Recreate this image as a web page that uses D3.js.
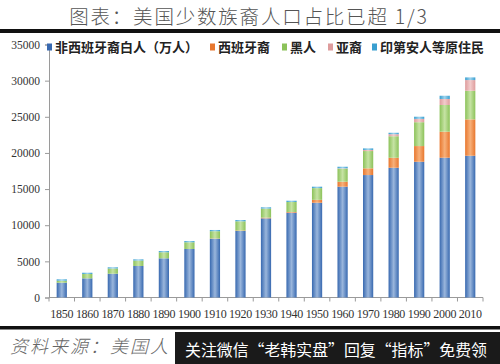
<!DOCTYPE html>
<html><head><meta charset="utf-8">
<script src="https://cdn.jsdelivr.net/npm/d3@7"></script>
<style>body{margin:0;background:#fff}svg{display:block}</style>
</head><body>
<svg id="c" width="500" height="364"></svg>
<script>
const years = ["1850","1860","1870","1880","1890","1900","1910","1920","1930","1940","1950","1960","1970","1980","1990","2000","2010"];
const whiteNH = [2050,2650,3290,4360,5420,6710,8130,9200,10950,11730,13110,15330,16940,17950,18780,19340,19610];
const hispanic = [0,0,0,0,0,0,40,70,100,100,400,690,930,1380,2170,3600,5030];
const black = [270,600,720,750,840,930,1000,1270,1250,1380,1620,1800,2390,2980,3300,3690,3960];
const asian = [0,0,0,0,0,0,0,0,0,0,0,50,150,280,460,830,1480];
const native = [200,180,170,170,170,170,170,180,180,180,200,220,220,200,300,450,370];
const seriesNames = ["非西班牙裔白人（万人）","西班牙裔","黑人","亚裔","印第安人等原住民"];
const yTicks = [0,5000,10000,15000,20000,25000,30000,35000];

const svg = d3.select("#c");
const W=500,H=364;
const x0=49,x1=483,y0=297.5,y1=44.5;

// title
svg.append("text").attr("x",249).attr("y",24).attr("text-anchor","middle")
  .attr("font-family","'Noto Sans CJK SC'").attr("font-size",19.5).attr("font-weight",300)
  .attr("fill","#555").attr("letter-spacing",1.8).text("图表：美国少数族裔人口占比已超 1/3");
svg.append("rect").attr("x",0).attr("y",29).attr("width",W).attr("height",4).attr("fill","#111");

const keys=["w","h","b","a","n"];
const rows = years.map((y,i)=>({year:y,w:whiteNH[i],h:hispanic[i],b:black[i],a:asian[i],n:native[i]}));
const stack = d3.stack().keys(keys)(rows);

const x = d3.scaleBand().domain(years).range([x0,x1]).paddingInner(0.6).paddingOuter(0.3);
const y = d3.scaleLinear().domain([0,35000]).range([y0,y1]);

const colors = {
  w:["#3869b0","#9ab6dc"],
  h:["#e8772e","#f7b07a"],
  b:["#8cc25a","#c6e3a4"],
  a:["#de9c9c","#f2cccc"],
  n:["#3a9fd0","#9fd4ee"]
};
const defs = svg.append("defs");
keys.forEach(k=>{
  const g = defs.append("linearGradient").attr("id","g"+k).attr("x1","0").attr("x2","1").attr("y1","0").attr("y2","0");
  g.append("stop").attr("offset","0").attr("stop-color",colors[k][0]);
  g.append("stop").attr("offset","0.5").attr("stop-color",colors[k][1]);
  g.append("stop").attr("offset","1").attr("stop-color",colors[k][0]);
});

// axes
const yAxis = d3.axisLeft(y).tickValues(yTicks).tickSize(4).tickPadding(5).tickFormat(d3.format("d"));
const gy = svg.append("g").attr("transform",`translate(${x0},0)`).call(yAxis);
gy.select(".domain").attr("stroke","#9a9a9a");
gy.selectAll(".tick line").attr("stroke","#9a9a9a");
gy.selectAll("text").attr("font-family","'Liberation Serif'").attr("font-size",11.5).attr("fill","#333");

const gx = svg.append("g").attr("transform",`translate(0,${y0})`);
gx.append("line").attr("x1",x0).attr("x2",x1).attr("stroke","#9a9a9a");
const bounds = d3.range(years.length+1).map(i=>x0+i*(x1-x0)/years.length);
gx.selectAll("line.t").data(bounds).join("line").attr("class","t")
  .attr("x1",d=>d).attr("x2",d=>d).attr("y1",0).attr("y2",4).attr("stroke","#9a9a9a");
gx.selectAll("text").data(years).join("text")
  .attr("x",(d,i)=>(bounds[i]+bounds[i+1])/2).attr("y",20).attr("text-anchor","middle")
  .attr("font-family","'Liberation Serif'").attr("font-size",12).attr("fill","#333")
  .attr("letter-spacing",-0.3).text(d=>d);

// bars
stack.forEach(s=>{
  svg.append("g").selectAll("rect").data(s).join("rect")
    .attr("x",d=>x(d.data.year)).attr("width",x.bandwidth())
    .attr("y",d=>y(d[1])).attr("height",d=>Math.max(0,y(d[0])-y(d[1])))
    .attr("fill","url(#g"+s.key+")");
});

// legend
const legX=[47,210,282,328,372];
const lg = svg.append("g");
keys.forEach((k,i)=>{
  lg.append("rect").attr("x",legX[i]).attr("y",43.5).attr("width",5).attr("height",7).attr("fill",colors[k][0]);
  lg.append("text").attr("x",legX[i]+8).attr("y",51.5).attr("font-family","'Noto Sans CJK SC'")
    .attr("font-size",13).attr("font-weight",700).attr("fill","#222").text(seriesNames[i]);
});

// bottom
svg.append("rect").attr("x",0).attr("y",326).attr("width",W).attr("height",3.5).attr("fill","#111");
svg.append("text").attr("x",10).attr("y",353).attr("font-family","'Noto Sans CJK SC'")
  .attr("font-size",18).attr("font-style","italic").attr("font-weight",300).attr("fill","#666")
  .attr("letter-spacing",2).text("资料来源：美国人");
svg.append("rect").attr("x",175).attr("y",332).attr("width",325).attr("height",32).attr("fill","#1a1a1a");
svg.append("text").attr("x",185).attr("y",356).attr("font-family","'Noto Sans CJK SC'")
  .attr("font-size",15.5).attr("fill","#fff").attr("textLength",302).attr("lengthAdjust","spacingAndGlyphs")
  .text("关注微信“老韩实盘”回复“指标”免费领");
</script>
</body></html>
